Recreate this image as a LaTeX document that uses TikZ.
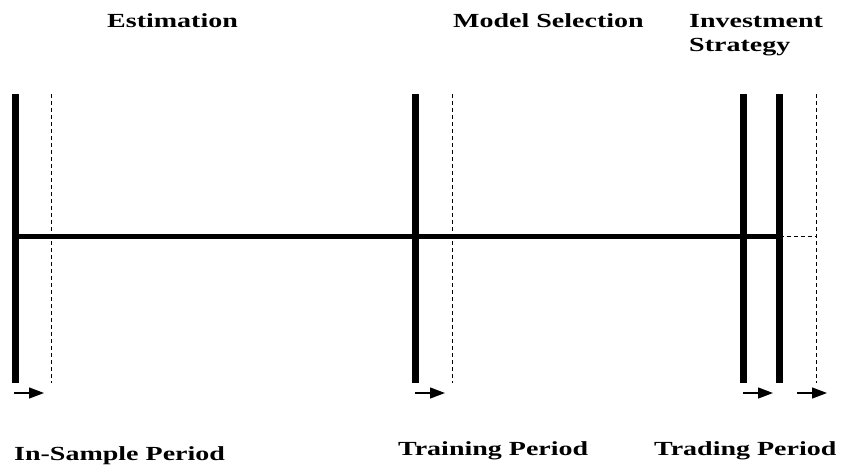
\documentclass[tikz,border=0pt]{standalone}
\usepackage{fontspec}
\setmainfont{Liberation Serif}[FakeStretch=1.4]
\usetikzlibrary{arrows.meta}
\begin{document}
\begin{tikzpicture}[x=1pt,y=-1pt,
  bar/.style={line width=6.5pt},
  axisline/.style={line width=5pt},
  guide/.style={line width=0.9pt,dash pattern=on 4pt off 3pt},
  shift arrow/.style={line width=1.3pt,-{Triangle[length=15pt,width=11pt]}},
  lbl/.style={inner sep=0pt,anchor=base west,align=left,font=\fontsize{20}{24}\selectfont\bfseries}]
\useasboundingbox (0,0) rectangle (843,473);
% coordinates
\foreach \n/\x in {a/15.5,b/415.5,c/743.5,d/779.5}{
  \coordinate (\n top) at (\x,94);
  \coordinate (\n bot) at (\x,383);
}
\foreach \n/\x in {da/51,db/452,dc/816}{
  \coordinate (\n top) at (\x,94);
  \coordinate (\n bot) at (\x,383);
}
\coordinate (hl) at (15.5,236);
\coordinate (hr) at (779.5,236);
\coordinate (hd) at (816,236);
\foreach \n/\x in {p1/14,p2/415,p3/743,p4/797}{
  \coordinate (\n s) at (\x,393);
  \coordinate (\n e) at (\x+30,393);
}
% labels
\node[lbl] (est) at (107,28) {Estimation};
\node[lbl] (ms) at (453,28) {Model Selection};
\node[lbl] (inv) at (689,52) {Investment\\Strategy};
\node[lbl] (isp) at (14,460) {In-Sample Period};
\node[lbl] (trp) at (398,455) {Training Period};
\node[lbl] (tdp) at (654,455) {Trading Period};
% lines
\draw[guide] (datop) -- (dabot);
\draw[guide] (dbtop) -- (dbbot);
\draw[guide] (dctop) -- (dcbot);
\draw[guide] (hr) -- (hd);
\draw[axisline] (hl) -- (hr);
\draw[bar] (atop) -- (abot);
\draw[bar] (btop) -- (bbot);
\draw[bar] (ctop) -- (cbot);
\draw[bar] (dtop) -- (dbot);
\draw[shift arrow] (p1s) -- (p1e);
\draw[shift arrow] (p2s) -- (p2e);
\draw[shift arrow] (p3s) -- (p3e);
\draw[shift arrow] (p4s) -- (p4e);
\end{tikzpicture}
\end{document}
